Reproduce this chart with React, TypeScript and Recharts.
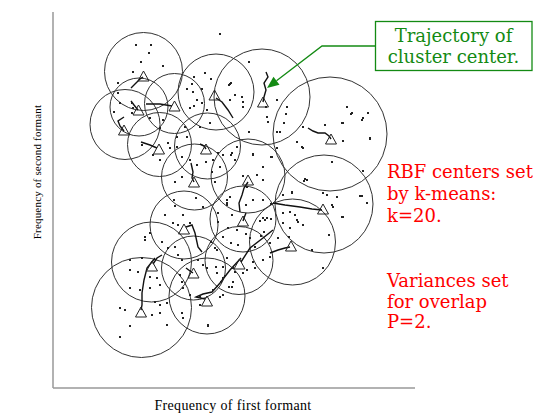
import { ScatterChart, Scatter, XAxis, YAxis, ReferenceDot } from 'recharts';

// plot units: x grows right (first formant), y grows down (second formant axis reversed)
const clusterCircles = [
  { x: 143.5, y: 71.5, r: 39 },
  { x: 139, y: 107, r: 29 },
  { x: 125, y: 124.5, r: 35 },
  { x: 174.5, y: 103.5, r: 30 },
  { x: 216, y: 92, r: 38 },
  { x: 262, y: 97, r: 48 },
  { x: 330, y: 134, r: 57 },
  { x: 159.5, y: 144.5, r: 32 },
  { x: 207.5, y: 146, r: 33 },
  { x: 248, y: 176, r: 37 },
  { x: 194.5, y: 177, r: 33 },
  { x: 324, y: 204, r: 49 },
  { x: 243, y: 219, r: 33 },
  { x: 184, y: 225, r: 34 },
  { x: 239, y: 260.5, r: 34 },
  { x: 292.5, y: 242, r: 43 },
  { x: 151.5, y: 262, r: 40 },
  { x: 193.5, y: 268, r: 32 },
  { x: 207, y: 296, r: 38 },
  { x: 141.5, y: 307.5, r: 50 },
];

const finalCenters = [
  { x: 143.5, y: 77 }, { x: 138.5, y: 111 }, { x: 124, y: 131 }, { x: 174.5, y: 107 },
  { x: 214.5, y: 96 }, { x: 263, y: 103 }, { x: 331, y: 140 }, { x: 159, y: 150 },
  { x: 206, y: 150 }, { x: 248, y: 181 }, { x: 194, y: 183 }, { x: 323, y: 210 },
  { x: 243, y: 222 }, { x: 184, y: 230 }, { x: 239.5, y: 265 }, { x: 291, y: 247 },
  { x: 152, y: 267 }, { x: 193.5, y: 274 }, { x: 207, y: 302 }, { x: 141, y: 313 },
];

const trajectories: [number, number][][] = [
  [[131, 88], [136, 83], [140, 79], [143, 77]],
  [[131, 101], [134, 105], [138, 110]],
  [[124, 117], [118, 121], [120, 126], [124, 131]],
  [[146, 104], [160, 104], [172, 106]],
  [[233, 118], [228, 110], [222, 102], [216, 98]],
  [[266, 72], [268, 77], [264, 83], [266, 90], [264, 97], [263, 102]],
  [[308, 128], [313, 131], [318, 133], [325, 133], [329, 136], [331, 139]],
  [[141, 142], [150, 145], [157, 148]],
  [[200, 144], [204, 146], [206, 149]],
  [[240, 212], [239, 203], [242, 195], [244, 188], [248, 182]],
  [[191, 163], [193, 172], [192, 178], [194, 182]],
  [[273, 203], [285, 205], [300, 207], [312, 209], [322, 210]],
  [[246, 213], [244, 218], [243, 221]],
  [[202, 252], [198, 247], [195, 233], [192, 225], [186, 227]],
  [[273, 230], [263, 238], [250, 248], [241, 262]],
  [[270, 253], [278, 250], [285, 248], [290, 247]],
  [[162, 255], [157, 258], [153, 264]],
  [[186, 268], [190, 271], [193, 273]],
  [[241, 258], [230, 270], [220, 283], [212, 292], [203, 294], [196, 297], [205, 299]],
  [[155, 258], [147, 268], [144, 280], [142, 293], [142, 305], [141, 310]],
];

const vowelSamples: [number, number][] = [
  [220, 34], [136, 45], [151, 45], [149, 53], [141, 62], [163, 66], [133, 72], [194, 77], [205, 73],
  [211, 79], [187, 89], [193, 92], [202, 89], [197, 100], [207, 110], [190, 108], [231, 83], [235, 95],
  [242, 97], [243, 102], [243, 107], [230, 100], [249, 62], [266, 107], [277, 100], [267, 117], [268, 122],
  [249, 132], [287, 107], [347, 107], [352, 113], [363, 118], [370, 138], [343, 123], [303, 127], [297, 142],
  [302, 147], [280, 132], [277, 148], [118, 93], [120, 103], [132, 103], [133, 108], [132, 113], [160, 128],
  [150, 118], [163, 120], [142, 145], [168, 143], [170, 148], [153, 155], [160, 160], [177, 137], [177, 147],
  [187, 137], [182, 157], [190, 160], [197, 165], [206, 162], [213, 160], [212, 172], [218, 153], [220, 167],
  [232, 153], [235, 160], [237, 147], [253, 155], [263, 167], [271, 157], [257, 175], [243, 176], [263, 180],
  [247, 187], [182, 177], [175, 182], [215, 182], [332, 162], [363, 171], [307, 180], [323, 193], [337, 197],
  [230, 197], [174, 200], [175, 206], [196, 198], [203, 207], [227, 200], [227, 203], [263, 200], [271, 204],
  [283, 195], [292, 192], [332, 205], [333, 207], [343, 217], [362, 196], [367, 203], [327, 195], [165, 215],
  [183, 215], [173, 223], [178, 225], [190, 223], [218, 213], [232, 215], [228, 228], [223, 237], [237, 230],
  [246, 234], [250, 238], [231, 243], [238, 245], [211, 242], [215, 248], [263, 218], [267, 218], [283, 213],
  [290, 212], [295, 215], [297, 220], [298, 222], [303, 225], [283, 223], [270, 243], [278, 238], [329, 235],
  [312, 250], [323, 268], [145, 237], [145, 240], [150, 233], [162, 242], [168, 248], [178, 255], [182, 260],
  [198, 260], [203, 265], [207, 268], [217, 273], [223, 267], [223, 278], [227, 258], [235, 272], [247, 270],
  [255, 268], [253, 262], [263, 260], [270, 257], [232, 287], [243, 273], [130, 260], [130, 270], [138, 272],
  [142, 258], [150, 277], [157, 278], [160, 285], [150, 288], [140, 290], [130, 288], [155, 302], [160, 305],
  [167, 303], [180, 275], [182, 282], [183, 288], [190, 295], [200, 297], [200, 305], [220, 297], [213, 290],
  [182, 313], [183, 318], [208, 326], [120, 308], [125, 310], [130, 326], [120, 337], [152, 315], [160, 313],
  [167, 325], [351, 114], [368, 113], [362, 120], [342, 123], [325, 125], [370, 139], [343, 141], [286, 114],
  [277, 132], [284, 123], [303, 148], [305, 179], [230, 84], [118, 83], [114, 112], [200, 127], [185, 127],
  [210, 123], [192, 84], [194, 106], [202, 103], [229, 85], [175, 247], [221, 282], [229, 287], [233, 268],
  [290, 228], [289, 237], [246, 205], [255, 247], [261, 236], [264, 232], [217, 250], [216, 267], [233, 282],
  [253, 154], [272, 157], [231, 155], [223, 155], [304, 181], [360, 196], [342, 217], [292, 193], [265, 220],
  [271, 219], [260, 221], [253, 200], [227, 205], [218, 222], [223, 295], [208, 325],
];

const toPoints = (list: [number, number][]) => list.map(([x, y]) => ({ x, y }));

const Triangle = (props: any) => {
  const { cx, cy } = props;
  return (
    <path
      d={`M${cx},${cy - 6} L${cx + 5.5},${cy + 4} L${cx - 5.5},${cy + 4} Z`}
      fill="none"
      stroke="#222"
      strokeWidth={1}
    />
  );
};

const Sample = (props: any) => {
  const { cx, cy } = props;
  return <rect x={cx - 1} y={cy - 1} width={2} height={2} fill="#222" />;
};

const Nothing = () => <g />;

const red = '#ff0000';
const green = '#138a13';

export default function App() {
  return (
    <div style={{ position: 'absolute', left: 0, top: 0, width: 539, height: 414, background: '#fff' }}>
      <ScatterChart width={539} height={414} margin={{ top: 12, right: 124, bottom: 0, left: 0 }}>
        <XAxis
          type="number"
          dataKey="x"
          domain={[53, 415]}
          allowDataOverflow
          tick={false}
          tickLine={false}
          height={26}
          axisLine={{ stroke: '#999', strokeWidth: 1.5 }}
        />
        <YAxis
          type="number"
          dataKey="y"
          domain={[12, 388]}
          reversed
          allowDataOverflow
          tick={false}
          tickLine={false}
          width={53}
          axisLine={{ stroke: '#999', strokeWidth: 1.5 }}
        />
        {clusterCircles.map((c, i) => (
          <ReferenceDot
            key={`c${i}`}
            x={c.x}
            y={c.y}
            r={c.r}
            fill="none"
            stroke="#333"
            strokeWidth={1}
            ifOverflow="visible"
          />
        ))}
        {trajectories.map((t, i) => (
          <Scatter
            key={`t${i}`}
            data={toPoints(t)}
            line={{ stroke: '#111', strokeWidth: 1.4 }}
            shape={Nothing}
            isAnimationActive={false}
          />
        ))}
        <Scatter data={toPoints(vowelSamples)} shape={Sample} isAnimationActive={false} />
        <Scatter data={finalCenters} shape={Triangle} isAnimationActive={false} />
      </ScatterChart>

      <svg
        width={539}
        height={414}
        style={{ position: 'absolute', left: 0, top: 0, pointerEvents: 'none' }}
      >
        <text
          x={41}
          y={172}
          transform="rotate(-90 41 172)"
          textAnchor="middle"
          fontFamily="'Liberation Serif', serif"
          fontSize={11}
          letterSpacing={0.2}
          fill="#000"
        >
          Frequency of second formant
        </text>
        <text
          x={233}
          y={410}
          textAnchor="middle"
          fontFamily="'Liberation Serif', serif"
          fontSize={14}
          letterSpacing={0.35}
          fill="#000"
        >
          Frequency of first formant
        </text>

        <rect x={375.5} y={21.5} width={156.5} height={49} fill="#fff" stroke={green} strokeWidth={1.3} />
        <g fontFamily="'DejaVu Serif', serif" fontSize={18} fill={green} textAnchor="middle">
          <text x={453.5} y={42}>Trajectory of</text>
          <text x={453.5} y={63}>cluster center.</text>
        </g>
        <polyline points="375,46 322,46 276.5,80.7" fill="none" stroke={green} strokeWidth={1.3} />
        <polygon points="267,88 279.5,84.7 273.5,76.7" fill={green} />

        <g fontFamily="'DejaVu Serif', serif" fontSize={18} fill={red}>
          <text x={387} y={178}>RBF centers set</text>
          <text x={387} y={200}>by k-means:</text>
          <text x={387} y={222}>k=20.</text>
          <text x={387} y={287}>Variances set</text>
          <text x={387} y={308}>for overlap</text>
          <text x={387} y={328}>P=2.</text>
        </g>
      </svg>
    </div>
  );
}
